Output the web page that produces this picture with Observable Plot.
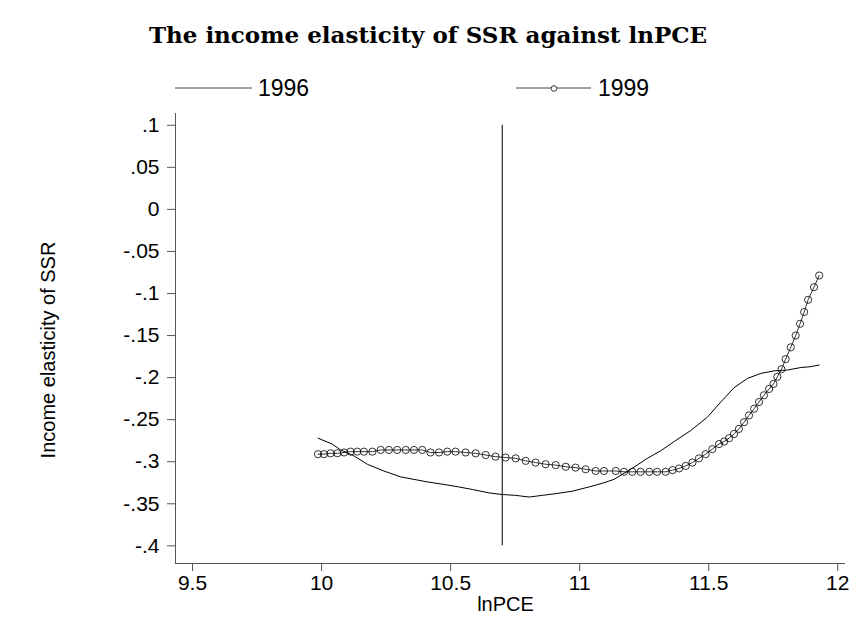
<!DOCTYPE html>
<html>
<head>
<meta charset="utf-8">
<script src="https://cdn.jsdelivr.net/npm/d3@7"></script>
<script src="https://cdn.jsdelivr.net/npm/@observablehq/plot@0.6"></script>
<style>
  html, body { margin: 0; padding: 0; background: #fff; }
  #wrap { position: relative; width: 856px; height: 621px; overflow: hidden; }
  #head { position: absolute; left: 0; top: 0; }
  #plot { position: absolute; left: 0; top: 100px; }
</style>
</head>
<body>
<div id="wrap">
  <svg id="head" width="856" height="100"></svg>
  <div id="plot"></div>
</div>
<script>
// ---- data ----
const titleText = "The income elasticity of SSR against lnPCE";
const xLabel = "lnPCE";
const yLabel = "Income elasticity of SSR";
const seriesNames = ["1996", "1999"];

const xTicks = [9.5, 10, 10.5, 11, 11.5, 12];
const yTicks = [-0.4, -0.35, -0.3, -0.25, -0.2, -0.15, -0.1, -0.05, 0, 0.05, 0.1];
const xDomain = [9.434, 12.03];
const yDomain = [-0.421, 0.114];

const refLineX = [10.7];
const refLineY = [-0.4, 0.1];

const x1996 = [9.986, 10.041, 10.074, 10.125, 10.177, 10.241, 10.306, 10.358, 10.41, 10.474,
  10.532, 10.584, 10.648, 10.70, 10.752, 10.804, 10.855, 10.907, 10.972, 11.036,
  11.094, 11.133, 11.198, 11.262, 11.314, 11.366, 11.43, 11.495, 11.547, 11.598,
  11.65, 11.702, 11.753, 11.805, 11.857, 11.895, 11.928];
const y1996 = [-0.272, -0.279, -0.286, -0.293, -0.303, -0.311, -0.318, -0.321, -0.324, -0.327,
  -0.330, -0.333, -0.337, -0.339, -0.340, -0.342, -0.340, -0.338, -0.335, -0.330,
  -0.325, -0.321, -0.309, -0.296, -0.287, -0.276, -0.263, -0.247, -0.229, -0.212,
  -0.201, -0.195, -0.192, -0.191, -0.188, -0.187, -0.185];

const x1999 = [9.986, 10.009, 10.035, 10.061, 10.087, 10.112, 10.138, 10.164, 10.197, 10.229,
  10.261, 10.293, 10.326, 10.358, 10.39, 10.422, 10.455, 10.487, 10.519, 10.558,
  10.597, 10.636, 10.674, 10.713, 10.752, 10.791, 10.829, 10.868, 10.907, 10.946,
  10.984, 11.023, 11.062, 11.094, 11.14, 11.172, 11.204, 11.236, 11.27, 11.3,
  11.333, 11.36, 11.385, 11.411, 11.437, 11.462, 11.488, 11.514, 11.54, 11.56,
  11.579, 11.598, 11.617, 11.637, 11.656, 11.676, 11.695, 11.714, 11.734, 11.751,
  11.766, 11.782, 11.798, 11.818, 11.837, 11.854, 11.87, 11.885, 11.908, 11.928];
const y1999 = [-0.291, -0.291, -0.290, -0.290, -0.289, -0.288, -0.288, -0.288, -0.288, -0.286,
  -0.286, -0.286, -0.286, -0.286, -0.286, -0.289, -0.289, -0.288, -0.288, -0.289,
  -0.290, -0.292, -0.294, -0.295, -0.296, -0.299, -0.301, -0.303, -0.304, -0.306,
  -0.307, -0.309, -0.311, -0.311, -0.311, -0.312, -0.312, -0.312, -0.312, -0.312,
  -0.312, -0.310, -0.308, -0.305, -0.301, -0.296, -0.291, -0.285, -0.279, -0.276,
  -0.272, -0.267, -0.261, -0.253, -0.245, -0.237, -0.229, -0.221, -0.2135, -0.2075,
  -0.199, -0.190, -0.178, -0.164, -0.150, -0.136, -0.122, -0.1075, -0.0925, -0.0786];

const d1996 = x1996.map((x, i) => ({x, y: y1996[i]}));
const d1999 = x1999.map((x, i) => ({x, y: y1999[i]}));

const fmt = v => {
  let s = String(+v.toFixed(3));
  return s.replace(/^(-?)0\./, "$1.");
};

const sans = "'Liberation Sans', Arial, sans-serif";

// ---- header: title + legend ----
const head = d3.select("#head");
head.append("text")
  .attr("x", 428).attr("y", 43)
  .attr("text-anchor", "middle")
  .attr("font-family", "'DejaVu Serif', serif")
  .attr("font-weight", "bold")
  .attr("font-size", 23)
  .text(titleText);

const lg = head.append("g").attr("font-family", sans).attr("font-size", 23);
// 1996
lg.append("line").attr("x1", 175).attr("x2", 252).attr("y1", 88).attr("y2", 88)
  .attr("stroke", "#444").attr("stroke-width", 1);
lg.append("text").attr("x", 258).attr("y", 95.5).text(seriesNames[0]);
// 1999
lg.append("line").attr("x1", 516).attr("x2", 591).attr("y1", 88).attr("y2", 88)
  .attr("stroke", "#444").attr("stroke-width", 1);
lg.append("circle").attr("cx", 554).attr("cy", 88.5).attr("r", 2.8)
  .attr("fill", "white").attr("stroke", "#222").attr("stroke-width", 0.9);
lg.append("text").attr("x", 598).attr("y", 95.5).text(seriesNames[1]);

// ---- plot ----
const chart = Plot.plot({
  width: 856,
  height: 521,
  marginTop: 13,
  marginBottom: 58,
  marginLeft: 175,
  marginRight: 11,
  style: {fontFamily: sans, fontSize: "21px", color: "black", background: "white"},
  x: {domain: xDomain},
  y: {domain: yDomain},
  marks: [
    Plot.axisX({ticks: xTicks, tickFormat: fmt, tickSize: 8, tickPadding: 4, stroke: "#555", fontSize: 21, label: null}),
    Plot.axisY({ticks: yTicks, tickFormat: fmt, tickSize: 8, tickPadding: 8, stroke: "#555", fontSize: 21, label: null}),
    Plot.ruleX([xDomain[0]], {stroke: "#555", strokeWidth: 1}),
    Plot.ruleY([yDomain[0]], {stroke: "#555", strokeWidth: 1}),
    Plot.ruleX(refLineX, {y1: refLineY[0], y2: refLineY[1], stroke: "black", strokeWidth: 1}),
    Plot.line(d1996, {x: "x", y: "y", stroke: "black", strokeWidth: 1}),
    Plot.line(d1999, {x: "x", y: "y", stroke: "black", strokeWidth: 0.8}),
    Plot.dot(d1999, {x: "x", y: "y", r: 3.6, stroke: "black", strokeWidth: 0.8, fill: "none"}),
    Plot.text([xLabel], {frameAnchor: "bottom", dy: 47, dx: -5, fontSize: 20})
  ]
});
// y-axis title, placed at the vertical middle of the reference's label
d3.select(chart).append("text")
  .attr("transform", "translate(48,250) rotate(-90)")
  .attr("text-anchor", "middle")
  .attr("dominant-baseline", "central")
  .attr("font-family", sans)
  .attr("font-size", 20)
  .attr("fill", "black")
  .text(yLabel);
document.getElementById("plot").appendChild(chart);
</script>
</body>
</html>
